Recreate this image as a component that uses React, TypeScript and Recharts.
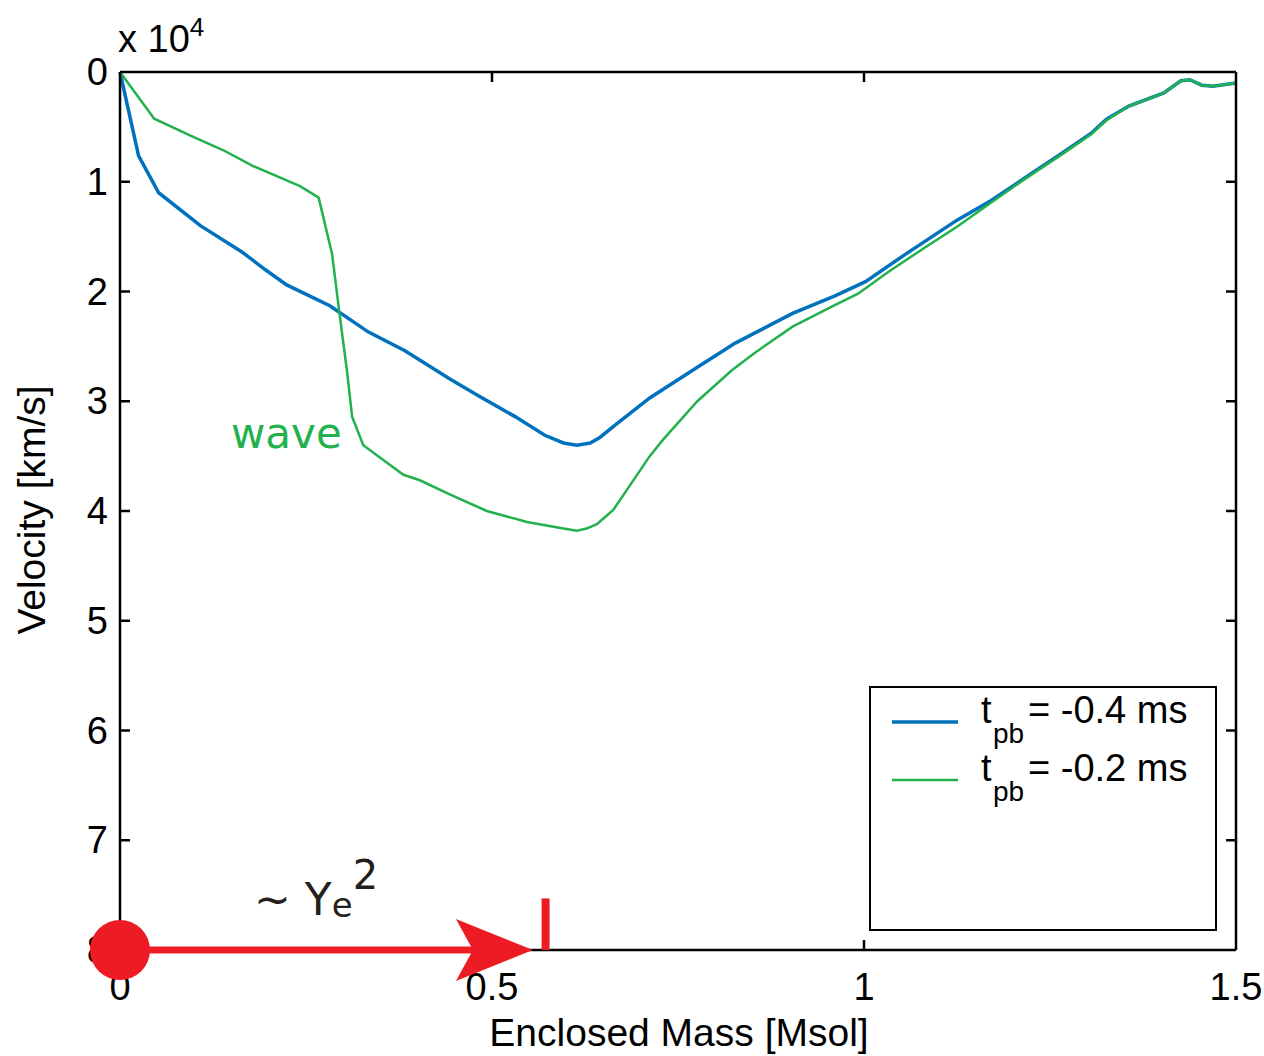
import React from "react";
import { LineChart, Line, XAxis, YAxis, Legend, ReferenceDot, ReferenceLine } from "recharts";

// enclosed mass [Msol] / velocity [x10^4 km/s, shown downward]
const blueMass = [0, 0.025, 0.052, 0.108, 0.164, 0.195, 0.224, 0.282, 0.334, 0.383, 0.444, 0.484, 0.531, 0.571, 0.596, 0.614, 0.632, 0.645, 0.665, 0.712, 0.776, 0.827, 0.904, 0.961, 1.002, 1.058, 1.125, 1.171, 1.213, 1.264, 1.305, 1.326, 1.356, 1.403, 1.426, 1.438, 1.454, 1.469, 1.5];
const blueVel = [0, 0.765, 1.1, 1.4, 1.64, 1.8, 1.94, 2.13, 2.37, 2.54, 2.8, 2.96, 3.14, 3.31, 3.38, 3.4, 3.38, 3.33, 3.22, 2.97, 2.69, 2.47, 2.2, 2.04, 1.91, 1.65, 1.35, 1.17, 0.98, 0.75, 0.56, 0.43, 0.31, 0.19, 0.08, 0.07, 0.12, 0.13, 0.1];

const greenMass = [0, 0.046, 0.094, 0.139, 0.179, 0.242, 0.267, 0.285, 0.295, 0.305, 0.312, 0.327, 0.363, 0.381, 0.403, 0.444, 0.493, 0.547, 0.596, 0.614, 0.627, 0.641, 0.663, 0.712, 0.73, 0.776, 0.822, 0.853, 0.904, 0.956, 0.992, 1.033, 1.084, 1.125, 1.171, 1.213, 1.264, 1.305, 1.326, 1.356, 1.403, 1.426, 1.438, 1.454, 1.469, 1.5];
const greenVel = [0, 0.425, 0.577, 0.713, 0.857, 1.04, 1.145, 1.655, 2.2, 2.72, 3.14, 3.4, 3.58, 3.67, 3.72, 3.85, 4.0, 4.1, 4.16, 4.18, 4.16, 4.12, 3.99, 3.5, 3.35, 3.0, 2.72, 2.56, 2.32, 2.14, 2.02, 1.82, 1.59, 1.41, 1.19, 0.99, 0.76, 0.57, 0.44, 0.31, 0.19, 0.08, 0.07, 0.12, 0.13, 0.1];

const xTicks = [0, 0.5, 1, 1.5];
const yTicks = [0, 1, 2, 3, 4, 5, 6, 7, 8];
const seriesNames = ["-0.4 ms", "-0.2 ms"];

const X_MAX = 1.5;
const Y_MAX = 8;
// inward tick mark length (~10px) in data units
const X_TICK_LEN = 0.0134;
const Y_TICK_LEN = 0.091;

const BLUE = "#0072bd";
const GREEN = "#22b14c";
const RED = "#ed1c24";
const FONT = "'Liberation Sans', Arial, sans-serif";

const blueData = blueMass.map((m, i) => ({ m, v: blueVel[i] }));
const greenData = greenMass.map((m, i) => ({ m, v: greenVel[i] }));

const frame = { stroke: "#000", strokeWidth: 2.5 };

const innerX = xTicks.filter((t) => t > 0 && t < X_MAX);
const innerY = yTicks.filter((t) => t > 0 && t < Y_MAX);

// inward tick marks on all four sides of the box
const tickSegments = [
  ...innerY.map((t) => ({ id: `l${t}`, seg: [{ x: 0, y: t }, { x: X_TICK_LEN, y: t }] })),
  ...innerY.map((t) => ({ id: `r${t}`, seg: [{ x: X_MAX, y: t }, { x: X_MAX - X_TICK_LEN, y: t }] })),
  ...innerX.map((t) => ({ id: `b${t}`, seg: [{ x: t, y: Y_MAX }, { x: t, y: Y_MAX - Y_TICK_LEN }] })),
  ...innerX.map((t) => ({ id: `t${t}`, seg: [{ x: t, y: 0 }, { x: t, y: Y_TICK_LEN }] })),
];

const LeftTick = (p: any) => (
  <text x={p.x} y={p.y + 13} textAnchor="end" fontSize={38} fontFamily={FONT} fill="#000">
    {p.payload.value}
  </text>
);

const BottomTick = (p: any) => (
  <text x={p.x} y={p.y + 50} textAnchor="middle" fontSize={38} fontFamily={FONT} fill="#000">
    {p.payload.value}
  </text>
);

const Arrow = (p: any) => {
  const { x1, y1, x2, y2 } = p;
  return (
    <g>
      <line x1={x1} y1={y1} x2={x2 - 60} y2={y2} stroke={RED} strokeWidth={7} />
      <polygon
        points={`${x2},${y2} ${x2 - 77},${y2 - 31} ${x2 - 60},${y2} ${x2 - 77},${y2 + 31}`}
        fill={RED}
      />
    </g>
  );
};

const LegendBox = () => {
  const colors = [BLUE, GREEN];
  const widths = [3.5, 2.5];
  return (
    <div style={{ width: 348, height: 245, border: "2px solid #000", boxSizing: "border-box", background: "#fff" }}>
      <svg width={344} height={241}>
        {seriesNames.map((name, i) => {
          const y = 34 + i * 58;
          return (
            <g key={name}>
              <line x1={21} x2={87} y1={y} y2={y} stroke={colors[i]} strokeWidth={widths[i]} />
              <text x={110} y={y + 1} fontSize={38} fontFamily={FONT} fill="#000">t</text>
              <text x={122} y={y + 21} fontSize={28} fontFamily={FONT} fill="#000">pb</text>
              <text x={157} y={y + 1} fontSize={38} fontFamily={FONT} fill="#000">= {name}</text>
            </g>
          );
        })}
      </svg>
    </div>
  );
};

export default function App() {
  return (
    <div style={{ position: "absolute", left: 0, top: 0, width: 1264, height: 1056, background: "#fff" }}>
      <LineChart width={1264} height={1056} margin={{ top: 71, right: 27, bottom: 46, left: 60 }}>
        <XAxis
          xAxisId="b"
          dataKey="m"
          type="number"
          domain={[0, X_MAX]}
          ticks={xTicks}
          interval={0}
          height={60}
          tickSize={0}
          tickMargin={0}
          tickLine={false}
          tick={BottomTick}
          axisLine={frame}
        />
        <XAxis
          xAxisId="t"
          orientation="top"
          type="number"
          domain={[0, X_MAX]}
          ticks={xTicks}
          height={1}
          tickLine={false}
          tick={false}
          axisLine={frame}
        />
        <YAxis
          yAxisId="l"
          type="number"
          domain={[0, Y_MAX]}
          reversed
          ticks={yTicks}
          interval={0}
          width={60}
          tickSize={0}
          tickMargin={12}
          tickLine={false}
          tick={LeftTick}
          axisLine={frame}
        />
        <YAxis
          yAxisId="r"
          orientation="right"
          type="number"
          domain={[0, Y_MAX]}
          reversed
          ticks={yTicks}
          width={1}
          tickLine={false}
          tick={false}
          axisLine={frame}
        />
        <Line
          xAxisId="b"
          yAxisId="l"
          data={blueData}
          dataKey="v"
          name={seriesNames[0]}
          type="linear"
          stroke={BLUE}
          strokeWidth={3.5}
          dot={false}
          isAnimationActive={false}
        />
        <Line
          xAxisId="b"
          yAxisId="l"
          data={greenData}
          dataKey="v"
          name={seriesNames[1]}
          type="linear"
          stroke={GREEN}
          strokeWidth={2.5}
          dot={false}
          isAnimationActive={false}
        />
        {tickSegments.map((s) => (
          <ReferenceLine
            key={s.id}
            xAxisId="b"
            yAxisId="l"
            segment={s.seg}
            stroke="#000"
            strokeWidth={2.5}
            ifOverflow="visible"
            zIndex={1500}
          />
        ))}
        <ReferenceLine
          xAxisId="b"
          yAxisId="l"
          segment={[{ x: 0, y: 8 }, { x: 0.555, y: 8 }]}
          shape={Arrow}
          ifOverflow="visible"
          zIndex={2000}
        />
        <ReferenceLine
          xAxisId="b"
          yAxisId="l"
          segment={[{ x: 0.572, y: 8 }, { x: 0.572, y: 7.53 }]}
          stroke={RED}
          strokeWidth={8}
          ifOverflow="visible"
          zIndex={2000}
        />
        <ReferenceDot
          xAxisId="b"
          yAxisId="l"
          x={0}
          y={8}
          r={30}
          fill={RED}
          stroke="none"
          ifOverflow="visible"
          zIndex={2100}
        />
        <Legend
          layout="horizontal"
          verticalAlign="middle"
          align="center"
          content={<LegendBox />}
          wrapperStyle={{ left: 869, top: 686, width: 348, height: 245 }}
        />
      </LineChart>
      <svg
        width={1264}
        height={1056}
        style={{ position: "absolute", left: 0, top: 0, pointerEvents: "none" }}
      >
        <text x={118} y={52} fontSize={38} fontFamily={FONT} fill="#000">
          x 10
          <tspan fontSize={26} dy={-16}>4</tspan>
        </text>
        <text
          x={45}
          y={510}
          transform="rotate(-90 45 510)"
          textAnchor="middle"
          fontSize={39}
          fontFamily={FONT}
          fill="#000"
        >
          Velocity [km/s]
        </text>
        <text x={679} y={1046} textAnchor="middle" fontSize={39} fontFamily={FONT} fill="#000">
          Enclosed Mass [Msol]
        </text>
        <text x={231} y={448} fontSize={42} fontFamily="'DejaVu Sans', sans-serif" fill={GREEN}>
          wave
        </text>
        <text x={254} y={915} fontSize={44} fontFamily="'DejaVu Sans', sans-serif" fill="#231f20">
          ~ Y
          <tspan fontSize={34} dy={2}>e</tspan>
          <tspan fontSize={40} dy={-28}>2</tspan>
        </text>
      </svg>
    </div>
  );
}
